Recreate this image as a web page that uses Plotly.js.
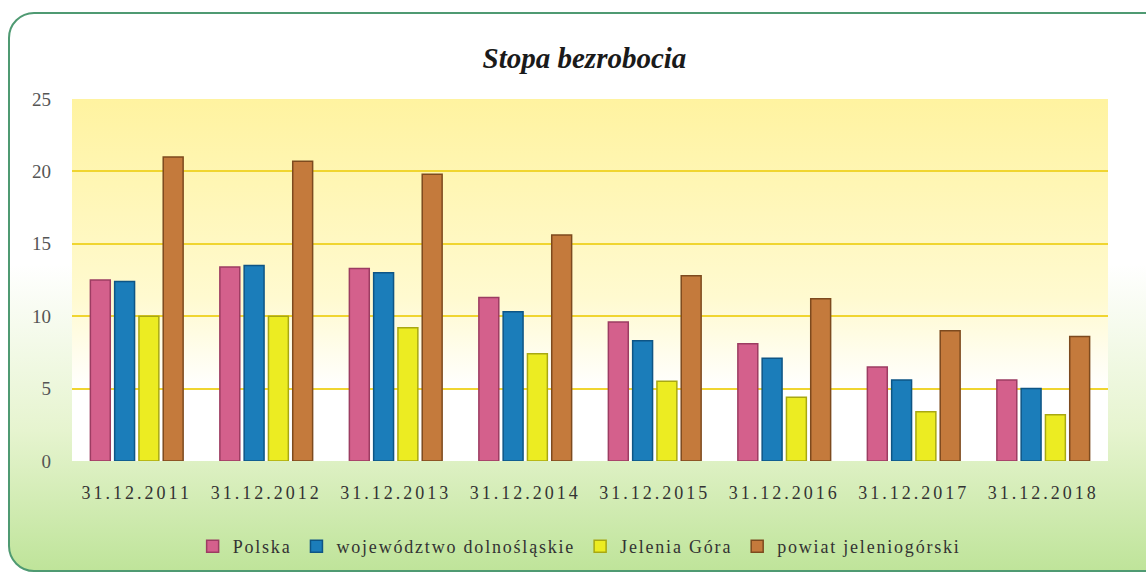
<!DOCTYPE html>
<html><head><meta charset="utf-8">
<script src="https://cdn.plot.ly/plotly-3.0.1.min.js"></script>
<style>
html,body{margin:0;padding:0;background:#fff;}
#wrap{position:relative;width:1146px;height:575px;overflow:hidden;background:#fff;}
#card{position:absolute;left:8px;top:12px;width:1160px;height:556px;border:2px solid #4f9a72;border-radius:26px;
 background:linear-gradient(to bottom,#ffffff 0%,#ffffff 45%,#e6f4cf 75%,#bfe49a 100%);}
#chart{position:absolute;left:0;top:0;width:1146px;height:575px;}
.xtick text{letter-spacing:3px;}
.legendtext{letter-spacing:1.8px;}
</style></head>
<body><div id="wrap"><div id="card"></div><div id="chart"></div></div>
<script>
const categories = ["31.12.2011","31.12.2012","31.12.2013","31.12.2014","31.12.2015","31.12.2016","31.12.2017","31.12.2018"];
const polska = [12.5, 13.4, 13.3, 11.3, 9.6, 8.1, 6.5, 5.6];
const dolnoslaskie = [12.4, 13.5, 13.0, 10.3, 8.3, 7.1, 5.6, 5.0];
const jeleniaGora = [10.0, 10.0, 9.2, 7.4, 5.5, 4.4, 3.4, 3.2];
const powiat = [21.0, 20.7, 19.8, 15.6, 12.8, 11.2, 9.0, 8.6];
const seriesNames = ["Polska","województwo dolnośląskie","Jelenia Góra","powiat jeleniogórski"];
const yTicks = [0,5,10,15,20,25];

const colors = ["#d4608c","#1b7dba","#ecec22","#c47a3c"];
const lines = ["#9c3c62","#0e5585","#a8a812","#7d4a1e"];
const vals = [polska, dolnoslaskie, jeleniaGora, powiat];
const traces = vals.map((v,i)=>({
  type:"bar", x:categories, y:v, name:seriesNames[i],
  marker:{color:colors[i], line:{color:lines[i], width:1.5}},
  hoverinfo:"y"
}));

const grad = 'data:image/svg+xml;utf8,' + encodeURIComponent(
 '<svg xmlns="http://www.w3.org/2000/svg" width="100" height="100" preserveAspectRatio="none">'+
 '<defs><linearGradient id="g" x1="0" y1="0" x2="0" y2="1">'+
 '<stop offset="0" stop-color="#fff3a0"/><stop offset="0.55" stop-color="#fffad0"/><stop offset="0.8" stop-color="#ffffff"/><stop offset="1" stop-color="#ffffff"/>'+
 '</linearGradient></defs><rect width="100" height="100" fill="url(#g)"/></svg>');

const serif = "Liberation Serif, Times New Roman, serif";
const layout = {
  width:1146, height:575,
  paper_bgcolor:"rgba(0,0,0,0)", plot_bgcolor:"rgba(0,0,0,0)",
  margin:{l:72, r:38, t:99, b:114, autoexpand:false},
  title:{text:"<b><i>Stopa bezrobocia</i></b>", x:0.51, xanchor:"center", y:0.9, yanchor:"middle",
         font:{family:serif, size:29, color:"#1a1a1a"}},
  barmode:"group", bargap:0.25, bargroupgap:0.18,
  xaxis:{type:"category", showgrid:false, zeroline:false, showline:false, ticks:"", automargin:false,
         tickfont:{family:serif, size:18, color:"#333"}, ticklabelstandoff:19},
  yaxis:{range:[0,25], tickvals:yTicks, showgrid:true, gridcolor:"#f0d530", gridwidth:2, automargin:false,
         zeroline:false, showline:false, ticks:"",
         tickfont:{family:serif, size:19, color:"#555"}, ticklabelstandoff:20},
  legend:{orientation:"h", x:0.49, xanchor:"center", y:-0.185, yanchor:"top",
          font:{family:serif, size:18, color:"#333"}, itemwidth:30, traceorder:"normal",
          bgcolor:"rgba(0,0,0,0)"},
  images:[{source:grad, xref:"paper", yref:"paper", x:0, y:1, sizex:1, sizey:1,
           sizing:"stretch", layer:"below", xanchor:"left", yanchor:"top"}],
  shapes:[{type:"rect", xref:"paper", yref:"y", x0:0, x1:1, y0:-0.8, y1:0, fillcolor:"#cfe7b4", line:{width:0}, layer:"below"}],
  showlegend:true
};
Plotly.newPlot("chart", traces, layout, {displayModeBar:false, staticPlot:true});
</script></body></html>
